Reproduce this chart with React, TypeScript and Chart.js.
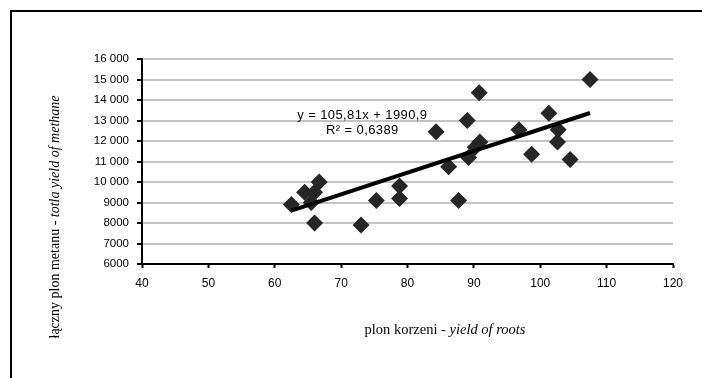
import React, { useEffect, useRef } from "react";
import { Chart, registerables } from "chart.js";

Chart.register(...registerables);

// Data
const rootYield: number[] = [
  62.5, 64.5, 65.5, 66, 66.7, 66, 73, 75.3, 78.8, 78.8, 84.3, 86.2, 87.7,
  89, 89.2, 90.2, 90.9, 90.8, 96.8, 98.7, 101.3, 102.7, 102.6, 104.5, 107.5,
];
const methaneYield: number[] = [
  8900, 9500, 9000, 9500, 10000, 8000, 7900, 9100, 9800, 9200, 12450, 10750,
  9100, 13000, 11200, 11700, 11950, 14350, 12550, 11350, 13350, 12550, 11950,
  11100, 15000,
];
const trendSlope = 105.81;
const trendIntercept = 1990.9;
const trendRange: number[] = [62.5, 107.5];

const xTickValues: number[] = [40, 50, 60, 70, 80, 90, 100, 110, 120];
const xTickLabels: string[] = ["40", "50", "60", "70", "80", "90", "100", "110", "120"];
const yTickValues: number[] = [6000, 7000, 8000, 9000, 10000, 11000, 12000, 13000, 14000, 15000, 16000];
const yTickLabels: string[] = ["6000", "7000", "8000", "9000", "10 000", "11 000", "12 000", "13 000", "14 000", "15 000", "16 000"];

const equationLine1 = "y = 105,81x + 1990,9";
const equationLine2 = "R² = 0,6389";
const yTitleNormal = "łączny plon metanu - ";
const yTitleItalic = "totla yield of methane";
const xTitleNormal = "plon korzeni - ";
const xTitleItalic = "yield of roots";

const SANS = "'Liberation Sans', Arial, sans-serif";
const SERIF = "'Liberation Serif', 'Times New Roman', serif";

function drawMixed(
  ctx: CanvasRenderingContext2D,
  normal: string,
  italic: string,
  cx: number,
  cy: number,
  size: number
) {
  ctx.font = `${size}px ${SERIF}`;
  const w1 = ctx.measureText(normal).width;
  ctx.font = `italic ${size}px ${SERIF}`;
  const w2 = ctx.measureText(italic).width;
  const start = cx - (w1 + w2) / 2;
  ctx.textAlign = "left";
  ctx.textBaseline = "middle";
  ctx.fillStyle = "#000";
  ctx.font = `${size}px ${SERIF}`;
  ctx.fillText(normal, start, cy);
  ctx.font = `italic ${size}px ${SERIF}`;
  ctx.fillText(italic, start + w1, cy);
}

const decorPlugin = {
  id: "decor",
  afterDraw(chart: any) {
    const ctx: CanvasRenderingContext2D = chart.ctx;
    const xs = chart.scales.x;
    const ys = chart.scales.y;
    ctx.save();
    // outer frame (top and left visible)
    ctx.fillStyle = "#000";
    ctx.fillRect(10, 10, 692, 2);
    ctx.fillRect(10, 10, 2, 368);

    // equation text
    ctx.fillStyle = "#000";
    ctx.font = `13px ${SANS}`;
    (ctx as any).letterSpacing = "0.4px";
    ctx.textAlign = "center";
    ctx.textBaseline = "middle";
    const ex = xs.getPixelForValue(73.2);
    ctx.fillText(equationLine1, ex, ys.getPixelForValue(13250));
    ctx.fillText(equationLine2, ex, ys.getPixelForValue(12520));
    (ctx as any).letterSpacing = "0px";

    // x title
    drawMixed(ctx, xTitleNormal, xTitleItalic, 445, 330, 14.5);

    // y title
    ctx.translate(55, 217);
    ctx.rotate(-Math.PI / 2);
    drawMixed(ctx, yTitleNormal, yTitleItalic, 0, 0, 14);
    ctx.restore();
  },
};

export default function App() {
  const canvasRef = useRef<HTMLCanvasElement | null>(null);

  useEffect(() => {
    const canvas = canvasRef.current;
    if (!canvas) return;
    const points = rootYield.map((x, i) => ({ x, y: methaneYield[i] }));
    const trend = trendRange.map((x) => ({ x, y: trendSlope * x + trendIntercept }));

    const chart = new Chart(canvas, {
      type: "scatter",
      data: {
        datasets: [
          {
            label: "trend",
            data: trend,
            showLine: true,
            borderColor: "#000",
            borderWidth: 4,
            pointRadius: 0,
            fill: false,
          } as any,
          {
            label: "data",
            data: points,
            pointStyle: "rectRot",
            pointRadius: 8.5,
            backgroundColor: "#262626",
            borderColor: "#262626",
            borderWidth: 0,
          },
        ],
      },
      options: {
        responsive: false,
        animation: false,
        layout: { padding: { left: 0, right: 29, top: 59, bottom: 0 } },
        plugins: {
          legend: { display: false },
          tooltip: { enabled: false },
        },
        scales: {
          x: {
            type: "linear",
            min: 40,
            max: 120,
            afterBuildTicks: (scale: any) => {
              scale.ticks = xTickValues.map((v) => ({ value: v }));
            },
            afterFit: (scale: any) => {
              scale.height = 114;
            },
            ticks: {
              color: "#000",
              font: { family: SANS, size: 12 },
              padding: 8,
              maxRotation: 0,
              callback: (v: any) => {
                const i = xTickValues.indexOf(Number(v));
                return i >= 0 ? xTickLabels[i] : "";
              },
            },
            grid: {
              drawOnChartArea: false,
              drawTicks: true,
              tickLength: 4,
              tickColor: "#000",
              tickWidth: 2,
            },
            border: { color: "#000", width: 2 },
          },
          y: {
            type: "linear",
            min: 6000,
            max: 16000,
            afterBuildTicks: (scale: any) => {
              scale.ticks = yTickValues.map((v) => ({ value: v }));
            },
            afterFit: (scale: any) => {
              scale.width = 142;
            },
            ticks: {
              color: "#000",
              font: { family: SANS, size: 11.5 },
              padding: 8,
              callback: (v: any) => {
                const i = yTickValues.indexOf(Number(v));
                return i >= 0 ? yTickLabels[i] : "";
              },
            },
            grid: {
              color: "#c4c4c4",
              lineWidth: 2,
              drawTicks: true,
              tickLength: 5,
              tickColor: "#000",
              tickWidth: 2,
            },
            border: { color: "#000", width: 2 },
          },
        },
      },
      plugins: [decorPlugin],
    } as any);

    return () => chart.destroy();
  }, []);

  return (
    <div style={{ position: "fixed", left: 0, top: 0, width: 702, height: 378, background: "#fff" }}>
      <canvas ref={canvasRef} width={702} height={378} style={{ display: "block" }} />
    </div>
  );
}
